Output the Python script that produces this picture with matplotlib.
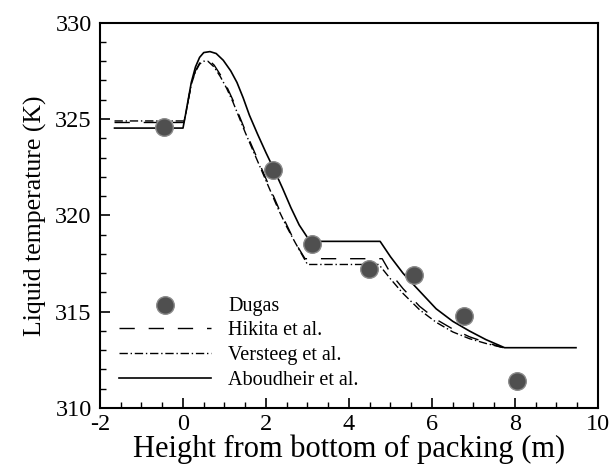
import matplotlib
matplotlib.use("Agg")
import matplotlib.pyplot as plt
from matplotlib.ticker import MultipleLocator

plt.rcParams['font.family'] = ['Liberation Serif', 'DejaVu Serif']
plt.rcParams['axes.unicode_minus'] = False

# Dugas experimental data
dugas_x = [-0.46, 2.18, 3.10, 4.49, 5.57, 6.77, 8.06]
dugas_y = [324.58, 322.37, 318.52, 317.24, 316.89, 314.80, 311.40]

# Aboudheir et al. (solid)
abou_x = [-1.65, 0.0, 0.05, 0.1, 0.2, 0.3, 0.4, 0.5, 0.65, 0.8, 0.97, 1.15, 1.3, 1.45,
          1.6, 1.8, 2.0, 2.2, 2.4, 2.6, 2.8, 3.06, 4.75, 5.0, 5.3, 5.6, 6.1, 6.5, 6.9,
          7.3, 7.75, 9.47]
abou_y = [324.53, 324.53, 325.1, 325.7, 326.9, 327.7, 328.2, 328.45, 328.5, 328.4, 328.05,
          327.5, 326.9, 326.1, 325.2, 324.2, 323.25, 322.35, 321.4, 320.4, 319.5, 318.65,
          318.65, 317.85, 317.0, 316.3, 315.15, 314.5, 314.0, 313.55, 313.13, 313.13]

# Hikita et al. (dashed)
hik_x = [-1.65, 0.02, 0.07, 0.12, 0.2, 0.3, 0.4, 0.5, 0.6, 0.75, 0.9, 1.05, 1.2, 1.35,
         1.5, 1.7, 1.9, 2.1, 2.3, 2.5, 2.7, 2.94, 4.8, 5.0, 5.3, 5.7, 6.1, 6.5, 6.9,
         7.3, 7.72]
hik_y = [324.82, 324.82, 325.3, 325.9, 326.8, 327.5, 327.9, 328.07, 328.1, 327.8, 327.3,
         326.7, 326.0, 325.2, 324.4, 323.4, 322.4, 321.4, 320.4, 319.5, 318.6, 317.75,
         317.75, 317.0, 316.2, 315.28, 314.6, 314.1, 313.7, 313.4, 313.13]

# Versteeg et al. (dash-dot)
ver_x = [-1.65, 0.02, 0.07, 0.12, 0.2, 0.3, 0.4, 0.5, 0.6, 0.75, 0.9, 1.05, 1.2, 1.35,
         1.5, 1.7, 1.9, 2.1, 2.3, 2.5, 2.7, 3.0, 4.72, 5.0, 5.3, 5.7, 6.1, 6.5, 6.9,
         7.3, 7.72]
ver_y = [324.9, 324.9, 325.3, 325.9, 326.8, 327.45, 327.85, 328.0, 328.0, 327.7, 327.2,
         326.6, 325.9, 325.1, 324.3, 323.3, 322.3, 321.3, 320.3, 319.4, 318.6, 317.45,
         317.45, 316.7, 315.95, 315.1, 314.45, 313.95, 313.6, 313.35, 313.13]

fig = plt.figure(figsize=(6.12, 4.68), dpi=100)
ax = fig.add_axes([0.1634, 0.1282, 0.8137, 0.8233])

ax.scatter(dugas_x, dugas_y, s=160, facecolor='#4f4f4f', edgecolor='#8a8a8a',
           linewidth=1.0, zorder=3, label='Dugas')
ax.plot(hik_x, hik_y, color='black', lw=1.0, dashes=(11, 10), label='Hikita et al.')
ax.plot(ver_x, ver_y, color='black', lw=1.0, dashes=(6, 2, 1, 2), label='Versteeg et al.')
ax.plot(abou_x, abou_y, color='black', lw=1.2, label='Aboudheir et al.')

ax.set_xlim(-2, 10)
ax.set_ylim(310, 330)
ax.xaxis.set_major_locator(MultipleLocator(2))
ax.xaxis.set_minor_locator(MultipleLocator(0.5))
ax.yaxis.set_major_locator(MultipleLocator(5))
ax.yaxis.set_minor_locator(MultipleLocator(1))
ax.tick_params(which='both', direction='in', top=False, right=False, labelsize=17.5)
ax.tick_params(which='major', length=7, width=1.2)
ax.tick_params(which='minor', length=4, width=1.0)
ax.tick_params(axis='y', pad=6)
ax.tick_params(axis='x', pad=4)
for s in ax.spines.values():
    s.set_linewidth(1.5)

ax.set_xlabel('Height from bottom of packing (m)', fontsize=22, labelpad=0)
ax.set_ylabel('Liquid temperature (K)', fontsize=18.5, labelpad=6)

ax.legend(loc='upper left', bbox_to_anchor=(0.039, 0.289), frameon=False, fontsize=14.5,
          handlelength=4.55, handletextpad=0.85, labelspacing=0.28, borderpad=0,
          borderaxespad=0, scatterpoints=1)

fig.savefig('out.png', dpi=100)
